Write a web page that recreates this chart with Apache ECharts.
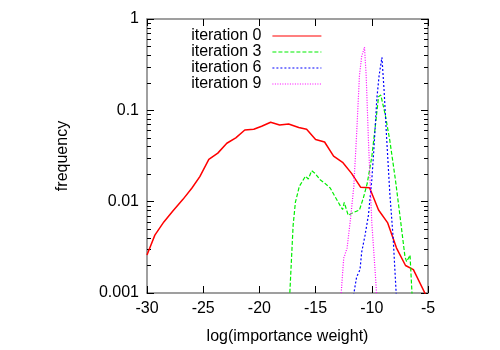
<!DOCTYPE html>
<html>
<head>
<meta charset="utf-8">
<script src="https://cdn.jsdelivr.net/npm/echarts@6/dist/echarts.min.js"></script>
<style>
  html, body { margin: 0; padding: 0; background: #fff; }
  #main { width: 500px; height: 350px; }
</style>
</head>
<body>
<div id="main"></div>
<script>
// values
var xTicks = [-30, -25, -20, -15, -10, -5];
var yMajor = [0.001, 0.01, 0.1, 1];
var yMinor = [0.002, 0.003, 0.004, 0.005, 0.006, 0.007, 0.008, 0.009,
              0.02, 0.03, 0.04, 0.05, 0.06, 0.07, 0.08, 0.09,
              0.2, 0.3, 0.4, 0.5, 0.6, 0.7, 0.8, 0.9];

var it0X = [-30, -29.3, -28.5, -27.7, -26.8, -26.0, -25.3, -24.5, -23.7, -22.9, -22.1, -21.3, -20.5, -19.8, -19.0, -18.2, -17.4, -16.5, -15.8, -15.0, -14.2, -13.4, -12.6, -11.8, -11.0, -10.2, -9.4, -8.6, -7.8, -7.0, -6.3, -5.0];
var it0Y = [0.0026, 0.0043, 0.006, 0.0079, 0.0106, 0.0141, 0.0188, 0.029, 0.034, 0.0436, 0.05, 0.061, 0.062, 0.067, 0.074, 0.069, 0.071, 0.065, 0.062, 0.048, 0.045, 0.0315, 0.027, 0.0204, 0.0144, 0.0142, 0.0081, 0.0059, 0.0031, 0.0020, 0.0018, 0.00085];

var it3X = [-17.5, -17.0, -16.8, -16.45, -15.9, -15.65, -15.35, -15.05, -14.6, -14.2, -13.7, -13.3, -12.8, -12.6, -12.45, -12.1, -11.65, -11.1, -10.75, -10.4, -10.0, -9.7, -9.4, -9.2, -8.8, -8.4, -7.9, -7.5, -7.05, -6.9, -6.6, -6.3];
var it3Y = [0.0003, 0.0055, 0.0098, 0.0147, 0.019, 0.0177, 0.0218, 0.0204, 0.0174, 0.016, 0.0141, 0.0115, 0.009, 0.0082, 0.0098, 0.0071, 0.0076, 0.0081, 0.011, 0.016, 0.031, 0.065, 0.141, 0.147, 0.089, 0.047, 0.0174, 0.0071, 0.0025, 0.0022, 0.0026, 0.0005];

var it6X = [-11.8, -11.35, -11.05, -10.9, -10.6, -10.3, -10.0, -9.8, -9.55, -9.35, -9.1, -8.9, -8.7, -8.4, -8.1, -7.7];
var it6Y = [0.0007, 0.0015, 0.0018, 0.0028, 0.0043, 0.0071, 0.0174, 0.040, 0.135, 0.24, 0.38, 0.16, 0.055, 0.0125, 0.004, 0.0005];

var it9X = [-12.9, -12.5, -12.2, -11.9, -11.6, -11.35, -11.1, -10.9, -10.65, -10.5, -10.3, -10.0, -9.7, -9.5];
var it9Y = [0.0005, 0.0024, 0.0031, 0.0064, 0.0147, 0.055, 0.24, 0.39, 0.49, 0.24, 0.047, 0.0059, 0.0017, 0.0007];

function pairs(xs, ys) {
    var out = [];
    for (var i = 0; i < xs.length; i++) out.push([xs[i], ys[i]]);
    return out;
}

var font = 'Liberation Sans';
var fs = 16;
var frame = { show: true, onZero: false, lineStyle: { color: '#808080', width: 1.5 } };

var myChart = echarts.init(document.getElementById('main'));
var option = {
    animation: false,
    backgroundColor: '#fff',
    textStyle: { fontFamily: font },
    grid: { left: 147, right: 72, top: 19, bottom: 51 },
    legend: {
        orient: 'vertical',
        align: 'right',
        right: 173,
        top: 23,
        itemWidth: 49,
        itemHeight: 10,
        itemGap: 0,
        itemStyle: { opacity: 0 },
        lineStyle: { width: 1.2 },
        textStyle: { fontSize: fs, color: '#000', padding: [0, 6, 0, 0], fontFamily: font },
        data: ['iteration 0', 'iteration 3', 'iteration 6', 'iteration 9']
    },
    xAxis: [{
        type: 'value', position: 'bottom', min: -30, max: -5, interval: 5,
        axisLine: frame,
        axisTick: { inside: true, length: 7, lineStyle: { color: '#000' } },
        axisLabel: { fontSize: fs, color: '#000', margin: 8, fontFamily: font },
        splitLine: { show: false },
        name: 'log(importance weight)', nameLocation: 'middle', nameGap: 36,
        nameTextStyle: { fontSize: fs, color: '#000', fontFamily: font }
    }, {
        type: 'value', position: 'top', min: -30, max: -5, interval: 5,
        axisLine: frame,
        axisTick: { inside: true, length: 7, lineStyle: { color: '#000' } },
        axisLabel: { show: false }, splitLine: { show: false }
    }],
    yAxis: [{
        type: 'log', position: 'left', min: 0.001, max: 1, logBase: 10,
        axisLine: frame,
        axisTick: { inside: true, length: 7, customValues: yMajor, lineStyle: { color: '#000' } },
        axisLabel: { fontSize: fs, color: '#000', margin: 8, fontFamily: font, customValues: yMajor,
            formatter: function (v) { return String(+v.toPrecision(3)); } },
        splitLine: { show: false },
        name: 'frequency', nameLocation: 'middle', nameGap: 76,
        nameTextStyle: { fontSize: fs, color: '#000', fontFamily: font }
    }, {
        type: 'log', position: 'left', min: 0.001, max: 1,
        axisLine: { show: false },
        axisTick: { inside: true, length: 4, customValues: yMinor, lineStyle: { color: '#000' } },
        axisLabel: { show: false }, splitLine: { show: false }
    }, {
        type: 'log', position: 'right', min: 0.001, max: 1,
        axisLine: frame,
        axisTick: { inside: true, length: 7, customValues: yMajor, lineStyle: { color: '#000' } },
        axisLabel: { show: false }, splitLine: { show: false }
    }, {
        type: 'log', position: 'right', min: 0.001, max: 1,
        axisLine: { show: false },
        axisTick: { inside: true, length: 4, customValues: yMinor, lineStyle: { color: '#000' } },
        axisLabel: { show: false }, splitLine: { show: false }
    }],
    series: [{
        name: 'iteration 0', type: 'line', symbol: 'none', clip: true,
        data: pairs(it0X, it0Y),
        itemStyle: { color: '#ff0000' },
        lineStyle: { color: '#ff0000', width: 1.5, type: 'solid' }
    }, {
        name: 'iteration 3', type: 'line', symbol: 'none', clip: true,
        data: pairs(it3X, it3Y),
        itemStyle: { color: '#00ee00' },
        lineStyle: { color: '#00ee00', width: 1.2, type: [4, 2] }
    }, {
        name: 'iteration 6', type: 'line', symbol: 'none', clip: true,
        data: pairs(it6X, it6Y),
        itemStyle: { color: '#0000ff' },
        lineStyle: { color: '#0000ff', width: 1.2, type: [2, 2] }
    }, {
        name: 'iteration 9', type: 'line', symbol: 'none', clip: true,
        data: pairs(it9X, it9Y),
        itemStyle: { color: '#ff00ff' },
        lineStyle: { color: '#ff00ff', width: 1.2, type: [1, 1.5] }
    }]
};
myChart.setOption(option);
</script>
</body>
</html>
